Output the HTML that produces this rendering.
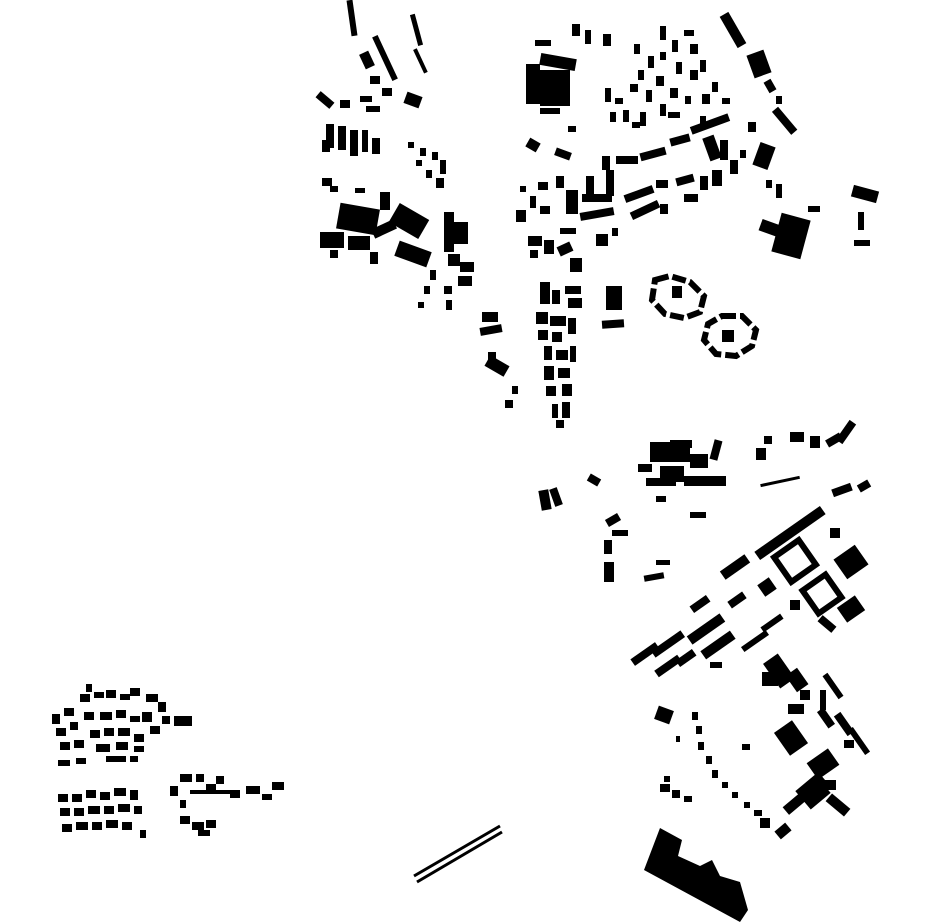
<!DOCTYPE html>
<html><head><meta charset="utf-8"><style>html,body{margin:0;padding:0;background:#fff}svg{display:block}</style></head>
<body>
<svg width="930" height="924" viewBox="0 0 930 924" xmlns="http://www.w3.org/2000/svg" fill="#000">
<!-- NW cluster -->
<g>
<rect x="349" y="0" width="6" height="36" transform="rotate(-8 352 18)"/>
<rect x="414" y="14" width="5" height="32" transform="rotate(-15 416 30)"/>
<rect x="418" y="48" width="4" height="26" transform="rotate(-25 420 60)"/>
<rect x="382" y="34" width="6" height="48" transform="rotate(-25 385 58)"/>
<rect x="362" y="52" width="10" height="16" transform="rotate(-25 367 60)"/>
<rect x="370" y="76" width="10" height="8"/>
<rect x="382" y="88" width="10" height="8"/>
<rect x="405" y="94" width="16" height="12" transform="rotate(20 413 100)"/>
<rect x="316" y="96" width="18" height="8" transform="rotate(40 325 100)"/>
<rect x="340" y="100" width="10" height="8"/>
<rect x="360" y="96" width="12" height="6"/>
<rect x="366" y="106" width="14" height="6"/>
<rect x="326" y="124" width="8" height="24"/>
<rect x="338" y="126" width="8" height="24"/>
<rect x="350" y="130" width="8" height="26"/>
<rect x="362" y="130" width="6" height="22"/>
<rect x="372" y="138" width="8" height="16"/>
<rect x="322" y="140" width="8" height="12"/>
<rect x="408" y="142" width="6" height="6"/>
<rect x="420" y="148" width="6" height="8"/>
<rect x="432" y="152" width="6" height="8"/>
<rect x="440" y="160" width="6" height="14"/>
<rect x="416" y="160" width="6" height="6"/>
<rect x="426" y="170" width="6" height="8"/>
<rect x="436" y="178" width="8" height="10"/>
<rect x="322" y="178" width="10" height="8"/>
<rect x="330" y="186" width="8" height="6"/>
<rect x="355" y="188" width="10" height="5"/>
<rect x="380" y="192" width="10" height="18"/>
<rect x="338" y="206" width="40" height="26" transform="rotate(10 358 219)"/>
<rect x="320" y="232" width="24" height="16"/>
<rect x="348" y="236" width="22" height="14"/>
<rect x="372" y="224" width="24" height="10" transform="rotate(-25 384 229)"/>
<rect x="392" y="210" width="34" height="22" transform="rotate(30 409 221)"/>
<rect x="396" y="246" width="34" height="16" transform="rotate(20 413 254)"/>
<rect x="370" y="252" width="8" height="12"/>
<rect x="330" y="250" width="8" height="8"/>
<rect x="444" y="212" width="10" height="40"/>
<rect x="454" y="222" width="14" height="22"/>
<rect x="448" y="254" width="12" height="12"/>
<rect x="460" y="262" width="14" height="10"/>
<rect x="458" y="276" width="14" height="10"/>
<rect x="444" y="286" width="8" height="8"/>
<rect x="430" y="270" width="6" height="10"/>
<rect x="424" y="286" width="6" height="8"/>
<rect x="418" y="302" width="6" height="6"/>
<rect x="446" y="300" width="6" height="10"/>
<rect x="482" y="312" width="16" height="10"/>
<rect x="480" y="326" width="22" height="8" transform="rotate(-10 491 330)"/>
<rect x="488" y="352" width="8" height="14"/>
<rect x="486" y="360" width="22" height="12" transform="rotate(30 497 366)"/>
<rect x="512" y="386" width="6" height="8"/>
<rect x="505" y="400" width="8" height="8"/>
</g>
<!-- North central -->
<g>
<rect x="572" y="24" width="8" height="12"/>
<rect x="585" y="30" width="6" height="14"/>
<rect x="603" y="34" width="8" height="12"/>
<rect x="535" y="40" width="16" height="6"/>
<rect x="540" y="56" width="36" height="12" transform="rotate(10 558 62)"/>
<rect x="526" y="64" width="14" height="40"/>
<rect x="540" y="70" width="30" height="36"/>
<rect x="540" y="108" width="20" height="6"/>
<rect x="555" y="150" width="16" height="8" transform="rotate(20 563 154)"/>
<rect x="527" y="140" width="12" height="10" transform="rotate(30 533 145)"/>
<rect x="568" y="126" width="8" height="6"/>
</g>
<!-- village north -->
<g>
<rect x="605" y="88" width="6" height="14"/><rect x="615" y="98" width="8" height="6"/>
<rect x="610" y="112" width="6" height="10"/><rect x="623" y="110" width="6" height="12"/>
<rect x="634" y="44" width="6" height="10"/><rect x="648" y="56" width="6" height="12"/>
<rect x="638" y="70" width="6" height="10"/><rect x="630" y="84" width="8" height="8"/>
<rect x="646" y="90" width="6" height="12"/><rect x="656" y="76" width="8" height="10"/>
<rect x="660" y="26" width="6" height="14"/><rect x="672" y="40" width="6" height="12"/>
<rect x="684" y="30" width="10" height="6"/><rect x="690" y="44" width="8" height="10"/>
<rect x="676" y="62" width="6" height="12"/><rect x="690" y="70" width="8" height="10"/>
<rect x="700" y="60" width="6" height="12"/><rect x="712" y="82" width="6" height="10"/>
<rect x="670" y="88" width="8" height="10"/><rect x="660" y="104" width="6" height="12"/>
<rect x="685" y="96" width="6" height="8"/><rect x="702" y="94" width="8" height="10"/>
<rect x="722" y="98" width="8" height="6"/><rect x="640" y="112" width="6" height="14"/>
<rect x="632" y="122" width="8" height="6"/><rect x="700" y="116" width="6" height="10"/>
<rect x="660" y="52" width="6" height="8"/><rect x="668" y="112" width="12" height="6"/>
</g>
<!-- Right diagonal bars -->
<g>
<rect x="728" y="12" width="10" height="36" transform="rotate(-30 733 30)"/>
<rect x="750" y="52" width="18" height="24" transform="rotate(-20 759 64)"/>
<rect x="766" y="80" width="8" height="12" transform="rotate(-30 770 86)"/>
<rect x="776" y="96" width="6" height="8"/>
<rect x="780" y="106" width="8" height="30" transform="rotate(-40 784 120)"/>
<rect x="756" y="144" width="16" height="24" transform="rotate(20 764 156)"/>
<rect x="776" y="216" width="30" height="40" transform="rotate(15 791 236)"/>
<rect x="760" y="222" width="20" height="12" transform="rotate(20 770 228)"/>
<rect x="808" y="206" width="12" height="6"/>
<rect x="852" y="188" width="26" height="12" transform="rotate(15 865 194)"/>
<rect x="858" y="212" width="6" height="18"/>
<rect x="854" y="240" width="16" height="6"/>
<rect x="766" y="180" width="6" height="8"/><rect x="776" y="184" width="6" height="14"/>
<rect x="748" y="122" width="8" height="10"/><rect x="740" y="150" width="6" height="8"/>
</g>
<!-- Central cluster -->
<g>
<rect x="690" y="120" width="40" height="8" transform="rotate(-20 710 124)"/>
<rect x="706" y="136" width="12" height="24" transform="rotate(-20 712 148)"/>
<rect x="720" y="140" width="8" height="20"/>
<rect x="670" y="136" width="20" height="8" transform="rotate(-15 680 140)"/>
<rect x="640" y="150" width="26" height="8" transform="rotate(-15 653 154)"/>
<rect x="616" y="156" width="22" height="8"/>
<rect x="602" y="156" width="8" height="14"/>
<rect x="586" y="176" width="8" height="20"/>
<rect x="582" y="194" width="30" height="8"/>
<rect x="606" y="170" width="8" height="26"/>
<rect x="624" y="190" width="30" height="8" transform="rotate(-20 639 194)"/>
<rect x="656" y="180" width="12" height="8"/>
<rect x="676" y="176" width="18" height="8" transform="rotate(-15 685 180)"/>
<rect x="684" y="194" width="14" height="8"/>
<rect x="700" y="176" width="8" height="14"/>
<rect x="712" y="170" width="10" height="16"/>
<rect x="730" y="160" width="8" height="14"/>
<rect x="566" y="190" width="12" height="24"/>
<rect x="580" y="210" width="34" height="8" transform="rotate(-10 597 214)"/>
<rect x="556" y="176" width="8" height="12"/>
<rect x="538" y="182" width="10" height="8"/>
<rect x="530" y="196" width="6" height="12"/>
<rect x="540" y="206" width="10" height="8"/>
<rect x="516" y="210" width="10" height="12"/>
<rect x="630" y="206" width="30" height="8" transform="rotate(-25 645 210)"/>
<rect x="660" y="204" width="8" height="10"/>
<rect x="596" y="234" width="12" height="12"/>
<rect x="612" y="228" width="6" height="8"/>
<rect x="560" y="228" width="16" height="6"/>
<rect x="528" y="236" width="14" height="10"/>
<rect x="544" y="240" width="10" height="14"/>
<rect x="530" y="250" width="8" height="8"/>
<rect x="558" y="244" width="14" height="10" transform="rotate(-25 565 249)"/>
<rect x="570" y="258" width="12" height="14"/>
<rect x="520" y="186" width="6" height="6"/>
</g>
<!-- Column south -->
<g>
<rect x="540" y="282" width="10" height="22"/><rect x="552" y="290" width="8" height="14"/>
<rect x="565" y="286" width="16" height="8"/><rect x="568" y="298" width="14" height="10"/>
<rect x="536" y="312" width="12" height="12"/><rect x="550" y="316" width="16" height="10"/>
<rect x="568" y="318" width="8" height="16"/><rect x="538" y="330" width="10" height="10"/>
<rect x="552" y="332" width="10" height="10"/><rect x="544" y="346" width="8" height="14"/>
<rect x="556" y="350" width="12" height="10"/><rect x="570" y="346" width="6" height="16"/>
<rect x="544" y="366" width="10" height="14"/><rect x="558" y="368" width="12" height="10"/>
<rect x="546" y="386" width="10" height="10"/><rect x="562" y="384" width="10" height="12"/>
<rect x="552" y="404" width="6" height="14"/><rect x="562" y="402" width="8" height="16"/>
<rect x="556" y="420" width="8" height="8"/>
<rect x="606" y="286" width="16" height="24"/>
<rect x="602" y="320" width="22" height="8" transform="rotate(-4 613 324)"/>
</g>
<!-- Rings -->
<g fill="none" stroke="#000" stroke-width="6" stroke-dasharray="14 4">
<polygon points="655,280 670,276 690,282 704,296 700,312 684,318 665,314 652,300"/>
<polygon points="722,316 742,316 756,330 752,346 736,356 716,354 704,340 708,324"/>
</g>
<rect x="672" y="286" width="10" height="12"/>
<rect x="722" y="330" width="12" height="12"/>
<!-- SE upper -->
<g>
<rect x="650" y="442" width="40" height="20"/>
<rect x="670" y="440" width="22" height="8"/>
<rect x="638" y="464" width="14" height="8"/>
<rect x="660" y="466" width="24" height="16"/>
<rect x="690" y="454" width="18" height="14"/>
<rect x="646" y="478" width="30" height="8"/>
<rect x="684" y="476" width="42" height="10"/>
<rect x="712" y="440" width="8" height="20" transform="rotate(15 716 450)"/>
<rect x="690" y="512" width="16" height="6"/>
<rect x="656" y="496" width="10" height="6"/>
<rect x="540" y="490" width="10" height="20" transform="rotate(-10 545 500)"/>
<rect x="552" y="488" width="8" height="18" transform="rotate(-20 556 497)"/>
<rect x="588" y="476" width="12" height="8" transform="rotate(30 594 480)"/>
<rect x="756" y="448" width="10" height="12"/>
<rect x="764" y="436" width="8" height="8"/>
<rect x="790" y="432" width="14" height="10"/>
<rect x="810" y="436" width="10" height="12"/>
<rect x="826" y="436" width="16" height="8" transform="rotate(-30 834 440)"/>
<rect x="842" y="420" width="8" height="24" transform="rotate(35 846 432)"/>
<rect x="760" y="480" width="40" height="3" transform="rotate(-12 780 481)"/>
<rect x="832" y="486" width="20" height="8" transform="rotate(-20 842 490)"/>
<rect x="858" y="482" width="12" height="8" transform="rotate(-30 864 486)"/>
<rect x="606" y="516" width="14" height="8" transform="rotate(-30 613 520)"/>
<rect x="604" y="540" width="8" height="14"/>
<rect x="604" y="562" width="10" height="20"/>
<rect x="612" y="530" width="16" height="6"/>
<rect x="644" y="574" width="20" height="6" transform="rotate(-10 654 577)"/>
<rect x="656" y="560" width="14" height="5"/>
</g>
<!-- SE main -->
<g>
<rect x="750" y="528" width="80" height="10" transform="rotate(-35 790 533)"/>
<rect x="720" y="562" width="30" height="10" transform="rotate(-35 735 567)"/>
<rect x="728" y="596" width="18" height="8" transform="rotate(-35 737 600)"/>
<rect x="690" y="600" width="20" height="8" transform="rotate(-35 700 604)"/>
<rect x="686" y="624" width="40" height="10" transform="rotate(-35 706 629)"/>
<rect x="700" y="640" width="36" height="10" transform="rotate(-35 718 645)"/>
<rect x="650" y="640" width="36" height="8" transform="rotate(-35 668 644)"/>
<rect x="630" y="650" width="30" height="8" transform="rotate(-35 645 654)"/>
<rect x="654" y="662" width="28" height="8" transform="rotate(-35 668 666)"/>
<rect x="676" y="654" width="20" height="8" transform="rotate(-35 686 658)"/>
<rect x="710" y="662" width="12" height="6"/>
<rect x="740" y="638" width="30" height="6" transform="rotate(-35 755 641)"/>
<rect x="760" y="620" width="24" height="6" transform="rotate(-35 772 623)"/>
<rect x="780" y="546" width="30" height="30" fill="none" stroke="#000" stroke-width="6" transform="rotate(-35 795 561)"/>
<rect x="808" y="580" width="28" height="28" fill="none" stroke="#000" stroke-width="6" transform="rotate(-35 822 594)"/>
<rect x="838" y="550" width="26" height="24" transform="rotate(-35 851 562)"/>
<rect x="830" y="528" width="10" height="10"/>
<rect x="840" y="600" width="22" height="18" transform="rotate(-35 851 609)"/>
<rect x="818" y="620" width="18" height="8" transform="rotate(40 827 624)"/>
<rect x="760" y="580" width="14" height="14" transform="rotate(-35 767 587)"/>
<rect x="790" y="600" width="10" height="10"/>
<rect x="770" y="656" width="18" height="30" transform="rotate(-35 779 671)"/>
<rect x="790" y="670" width="14" height="20" transform="rotate(-35 797 680)"/>
<rect x="762" y="672" width="16" height="14"/>
<rect x="800" y="690" width="10" height="10"/>
<rect x="830" y="672" width="6" height="28" transform="rotate(-35 833 686)"/>
<rect x="820" y="690" width="6" height="20"/>
<rect x="780" y="724" width="22" height="28" transform="rotate(-35 791 738)"/>
<rect x="788" y="704" width="16" height="10"/>
<rect x="810" y="754" width="26" height="20" transform="rotate(-35 823 764)"/>
<rect x="822" y="708" width="8" height="20" transform="rotate(-35 826 718)"/>
<rect x="840" y="712" width="8" height="24" transform="rotate(-35 844 724)"/>
<rect x="856" y="726" width="6" height="30" transform="rotate(-35 859 741)"/>
<rect x="844" y="740" width="10" height="8"/>
<rect x="656" y="708" width="16" height="14" transform="rotate(20 664 715)"/>
<rect x="742" y="744" width="8" height="6"/>
<rect x="780" y="790" width="50" height="10" transform="rotate(-40 805 795)"/>
<rect x="800" y="780" width="26" height="24" transform="rotate(-40 813 792)"/>
<rect x="826" y="800" width="24" height="10" transform="rotate(40 838 805)"/>
<rect x="824" y="780" width="12" height="10"/>
<rect x="760" y="818" width="10" height="10"/>
<rect x="776" y="826" width="14" height="10" transform="rotate(-40 783 831)"/>
</g>
<!-- curve dotted buildings -->
<g>
<rect x="692" y="712" width="6" height="8"/><rect x="696" y="726" width="6" height="8"/>
<rect x="698" y="742" width="6" height="8"/><rect x="706" y="756" width="6" height="8"/>
<rect x="712" y="770" width="6" height="8"/><rect x="722" y="782" width="6" height="6"/>
<rect x="732" y="792" width="6" height="6"/><rect x="744" y="802" width="6" height="6"/>
<rect x="754" y="810" width="8" height="6"/><rect x="676" y="736" width="4" height="6"/>
<rect x="660" y="784" width="10" height="8"/><rect x="672" y="790" width="8" height="8"/>
<rect x="684" y="796" width="8" height="6"/><rect x="664" y="776" width="6" height="6"/>
</g>
<!-- Big building SE -->
<polygon points="660,828 682,840 678,856 700,866 712,860 720,876 740,882 748,910 740,922 644,870"/>
<!-- rail lines -->
<g stroke="#000" stroke-width="3">
<line x1="414" y1="876" x2="500" y2="826"/>
<line x1="417" y1="882" x2="502" y2="832"/>
</g>
<!-- SW village -->
<g>
<rect x="52" y="714" width="8" height="10"/><rect x="64" y="708" width="10" height="8"/>
<rect x="80" y="694" width="10" height="8"/><rect x="86" y="684" width="6" height="8"/>
<rect x="94" y="692" width="10" height="6"/><rect x="106" y="690" width="10" height="8"/>
<rect x="120" y="694" width="10" height="6"/><rect x="130" y="688" width="10" height="8"/>
<rect x="146" y="694" width="12" height="8"/><rect x="158" y="702" width="8" height="10"/>
<rect x="162" y="716" width="8" height="8"/><rect x="174" y="716" width="18" height="10"/>
<rect x="56" y="728" width="10" height="8"/><rect x="70" y="722" width="8" height="8"/>
<rect x="84" y="712" width="10" height="8"/><rect x="100" y="712" width="12" height="8"/>
<rect x="116" y="710" width="10" height="8"/><rect x="130" y="716" width="10" height="6"/>
<rect x="142" y="712" width="10" height="10"/><rect x="150" y="726" width="10" height="8"/>
<rect x="60" y="742" width="10" height="8"/><rect x="74" y="740" width="10" height="8"/>
<rect x="90" y="730" width="10" height="8"/><rect x="104" y="728" width="10" height="8"/>
<rect x="118" y="728" width="12" height="8"/><rect x="134" y="734" width="10" height="8"/>
<rect x="96" y="744" width="14" height="8"/><rect x="116" y="742" width="12" height="8"/>
<rect x="134" y="746" width="10" height="6"/><rect x="58" y="760" width="12" height="6"/>
<rect x="76" y="758" width="10" height="6"/><rect x="106" y="756" width="20" height="6"/>
<rect x="130" y="756" width="8" height="6"/>
<rect x="58" y="794" width="10" height="8"/><rect x="72" y="794" width="10" height="8"/>
<rect x="86" y="790" width="10" height="8"/><rect x="100" y="792" width="10" height="8"/>
<rect x="114" y="788" width="12" height="8"/><rect x="130" y="790" width="8" height="10"/>
<rect x="60" y="808" width="10" height="8"/><rect x="74" y="808" width="10" height="8"/>
<rect x="88" y="806" width="12" height="8"/><rect x="104" y="806" width="10" height="8"/>
<rect x="118" y="804" width="12" height="8"/><rect x="134" y="806" width="8" height="8"/>
<rect x="62" y="824" width="10" height="8"/><rect x="76" y="822" width="12" height="8"/>
<rect x="92" y="822" width="10" height="8"/><rect x="106" y="820" width="12" height="8"/>
<rect x="122" y="822" width="10" height="8"/><rect x="140" y="830" width="6" height="8"/>
<rect x="170" y="786" width="8" height="10"/><rect x="180" y="774" width="12" height="8"/>
<rect x="196" y="774" width="8" height="8"/><rect x="206" y="784" width="10" height="8"/>
<rect x="216" y="776" width="8" height="8"/><rect x="190" y="790" width="40" height="4"/>
<rect x="230" y="790" width="10" height="8"/><rect x="246" y="786" width="14" height="8"/>
<rect x="262" y="794" width="10" height="6"/><rect x="272" y="782" width="12" height="8"/>
<rect x="180" y="800" width="6" height="8"/><rect x="180" y="816" width="10" height="8"/>
<rect x="192" y="822" width="12" height="8"/><rect x="198" y="830" width="12" height="6"/>
<rect x="206" y="820" width="10" height="8"/>
</g>
</svg>
</body></html>
